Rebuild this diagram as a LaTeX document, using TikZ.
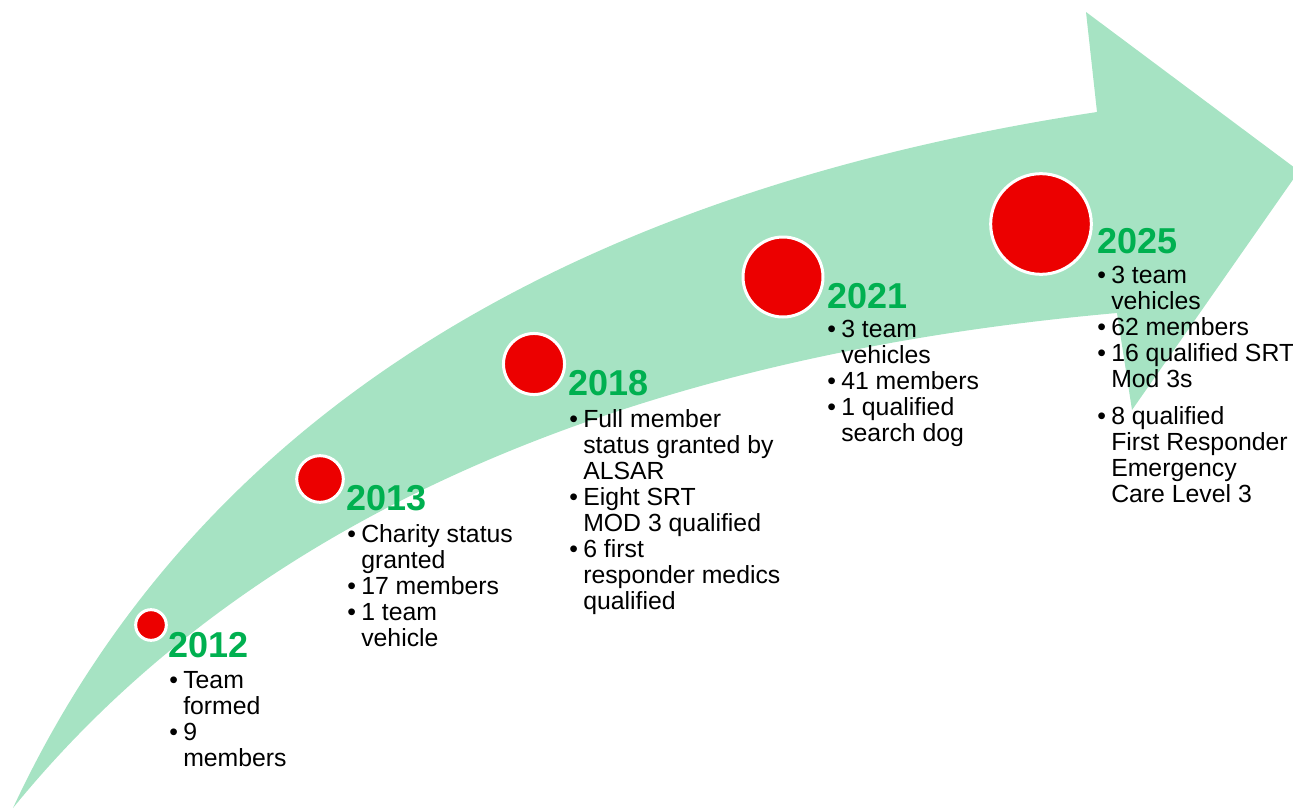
\documentclass[tikz,border=0pt]{standalone}
\usepackage{fontspec}
\setmainfont{Liberation Sans}
\definecolor{arrowgreen}{RGB}{166,227,195}
\definecolor{dotred}{RGB}{236,0,0}
\definecolor{yeargreen}{RGB}{0,176,80}
\tikzset{
  dot/.style={circle, fill=dotred, draw=white, line width=2.25pt, inner sep=0pt},
  yearlbl/.style={anchor=base west, inner sep=0pt, text=yeargreen, font=\fontsize{27}{30}\selectfont\bfseries},
  itemlbl/.style={anchor=base west, inner sep=0pt, align=left, font=\fontsize{18.6}{19.5}\selectfont},
}
\newcommand{\tlitem}{\textbullet\kern4pt}
\newcommand{\tlcont}{\hphantom{\textbullet\kern4pt}}

\begin{document}
\begin{tikzpicture}[x=0.75pt,y=0.75pt,yscale=-1,xscale=1]
\useasboundingbox (0,0) rectangle (1293,810);

%Shape: Curved arrow
\fill [arrowgreen] (13,808) .. controls (180,450) and (520,200) .. (1097,112) -- (1086,12) -- (1299,171) -- (1132,410) -- (1117,313) .. controls (700,350) and (280,480) .. (13,808) -- cycle ;

%Shape: Circles
\node [dot, minimum size=23pt] (c2012) at (151,625) {};
\node [dot, minimum size=35pt] (c2013) at (320,479) {};
\node [dot, minimum size=45.8pt] (c2018) at (534,364) {};
\node [dot, minimum size=60pt] (c2021) at (783,277) {};
\node [dot, minimum size=75.5pt] (c2025) at (1041,224) {};

% Text Node (lists are placed by their last baseline)
\node [yearlbl] (y2012) at (168,657) {2012};
\node [itemlbl] (l2012) at (169,766) {\tlitem Team\\ \tlcont formed\\ \tlitem 9\\ \tlcont members};
% Text Node
\node [yearlbl] (y2013) at (346,510) {2013};
\node [itemlbl] (l2013) at (347,646) {\tlitem Charity status\\ \tlcont granted\\ \tlitem 17 members\\ \tlitem 1 team\\ \tlcont vehicle};
% Text Node
\node [yearlbl] (y2018) at (568,395) {2018};
\node [itemlbl] (l2018) at (569,609) {\tlitem Full member\\ \tlcont status granted by\\ \tlcont ALSAR\\ \tlitem Eight SRT\\ \tlcont MOD 3 qualified\\ \tlitem 6 first\\ \tlcont responder medics\\ \tlcont qualified};
% Text Node
\node [yearlbl] (y2021) at (827,308) {2021};
\node [itemlbl] (l2021) at (827,441) {\tlitem 3 team\\ \tlcont vehicles\\ \tlitem 41 members\\ \tlitem 1 qualified\\ \tlcont search dog};
% Text Node
\node [yearlbl] (y2025) at (1097,253) {2025};
\node [itemlbl] (l2025) at (1097,502) {\tlitem 3 team\\ \tlcont vehicles\\ \tlitem 62 members\\ \tlitem 16 qualified SRT\\ \tlcont Mod 3s\\[8pt] \tlitem 8 qualified\\ \tlcont First Responder\\ \tlcont Emergency\\ \tlcont Care Level 3};

\end{tikzpicture}
\end{document}
